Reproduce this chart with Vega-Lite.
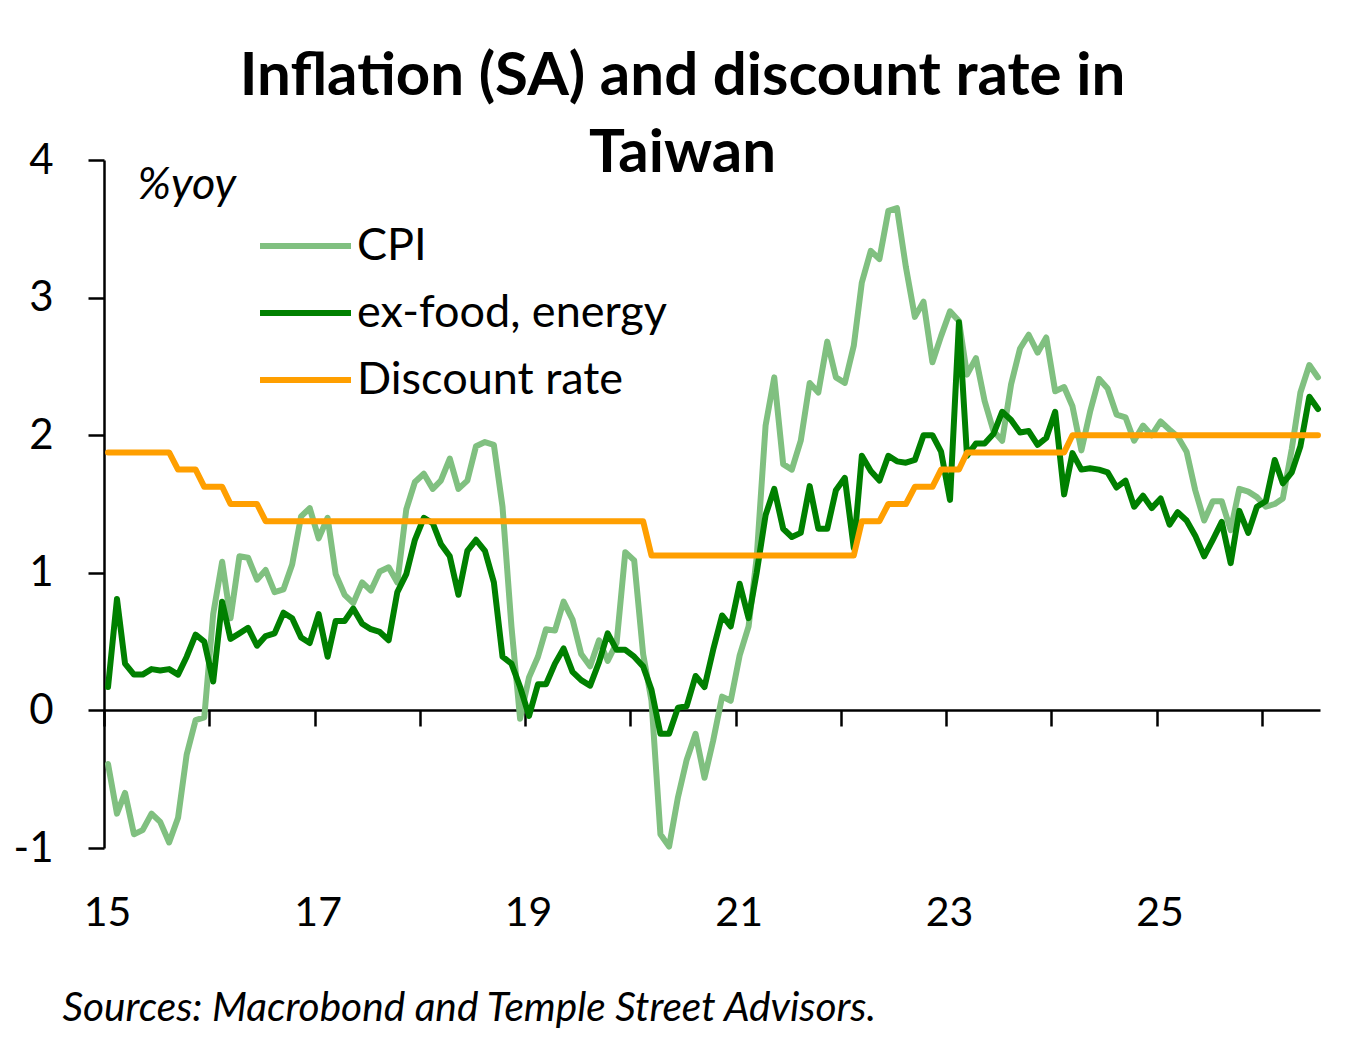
{
  "$schema": "https://vega.github.io/schema/vega-lite/v6.json",
  "width": 1216,
  "height": 688,
  "autosize": "none",
  "padding": {"left": 104, "top": 160, "right": 45, "bottom": 211},
  "background": "white",
  "title": {
    "text": ["Inflation (SA) and discount rate in", "Taiwan"],
    "font": "Lato",
    "fontSize": 60,
    "fontWeight": "bold",
    "color": "black",
    "lineHeight": 77,
    "anchor": "middle",
    "frame": "group",
    "offset": 0,
    "dx": -29.5,
    "dy": 46
  },
  "data": {
    "values": [
      {"date": "2015-01-15", "cpi": -0.39, "core": 0.17, "rate": 1.875},
      {"date": "2015-02-15", "cpi": -0.75, "core": 0.81, "rate": 1.875},
      {"date": "2015-03-15", "cpi": -0.60, "core": 0.34, "rate": 1.875},
      {"date": "2015-04-15", "cpi": -0.90, "core": 0.26, "rate": 1.875},
      {"date": "2015-05-15", "cpi": -0.87, "core": 0.26, "rate": 1.875},
      {"date": "2015-06-15", "cpi": -0.75, "core": 0.30, "rate": 1.875},
      {"date": "2015-07-15", "cpi": -0.81, "core": 0.29, "rate": 1.875},
      {"date": "2015-08-15", "cpi": -0.96, "core": 0.30, "rate": 1.875},
      {"date": "2015-09-15", "cpi": -0.78, "core": 0.26, "rate": 1.75},
      {"date": "2015-10-15", "cpi": -0.32, "core": 0.39, "rate": 1.75},
      {"date": "2015-11-15", "cpi": -0.07, "core": 0.55, "rate": 1.75},
      {"date": "2015-12-15", "cpi": -0.05, "core": 0.50, "rate": 1.625},
      {"date": "2016-01-15", "cpi": 0.70, "core": 0.21, "rate": 1.625},
      {"date": "2016-02-15", "cpi": 1.08, "core": 0.79, "rate": 1.625},
      {"date": "2016-03-15", "cpi": 0.67, "core": 0.52, "rate": 1.5},
      {"date": "2016-04-15", "cpi": 1.12, "core": 0.56, "rate": 1.5},
      {"date": "2016-05-15", "cpi": 1.11, "core": 0.60, "rate": 1.5},
      {"date": "2016-06-15", "cpi": 0.95, "core": 0.47, "rate": 1.5},
      {"date": "2016-07-15", "cpi": 1.02, "core": 0.54, "rate": 1.375},
      {"date": "2016-08-15", "cpi": 0.86, "core": 0.56, "rate": 1.375},
      {"date": "2016-09-15", "cpi": 0.88, "core": 0.71, "rate": 1.375},
      {"date": "2016-10-15", "cpi": 1.06, "core": 0.67, "rate": 1.375},
      {"date": "2016-11-15", "cpi": 1.41, "core": 0.53, "rate": 1.375},
      {"date": "2016-12-15", "cpi": 1.47, "core": 0.49, "rate": 1.375},
      {"date": "2017-01-15", "cpi": 1.25, "core": 0.70, "rate": 1.375},
      {"date": "2017-02-15", "cpi": 1.40, "core": 0.39, "rate": 1.375},
      {"date": "2017-03-15", "cpi": 0.99, "core": 0.65, "rate": 1.375},
      {"date": "2017-04-15", "cpi": 0.84, "core": 0.65, "rate": 1.375},
      {"date": "2017-05-15", "cpi": 0.78, "core": 0.74, "rate": 1.375},
      {"date": "2017-06-15", "cpi": 0.93, "core": 0.63, "rate": 1.375},
      {"date": "2017-07-15", "cpi": 0.87, "core": 0.59, "rate": 1.375},
      {"date": "2017-08-15", "cpi": 1.01, "core": 0.57, "rate": 1.375},
      {"date": "2017-09-15", "cpi": 1.04, "core": 0.51, "rate": 1.375},
      {"date": "2017-10-15", "cpi": 0.93, "core": 0.86, "rate": 1.375},
      {"date": "2017-11-15", "cpi": 1.46, "core": 0.99, "rate": 1.375},
      {"date": "2017-12-15", "cpi": 1.66, "core": 1.24, "rate": 1.375},
      {"date": "2018-01-15", "cpi": 1.72, "core": 1.40, "rate": 1.375},
      {"date": "2018-02-15", "cpi": 1.61, "core": 1.36, "rate": 1.375},
      {"date": "2018-03-15", "cpi": 1.67, "core": 1.21, "rate": 1.375},
      {"date": "2018-04-15", "cpi": 1.83, "core": 1.12, "rate": 1.375},
      {"date": "2018-05-15", "cpi": 1.61, "core": 0.84, "rate": 1.375},
      {"date": "2018-06-15", "cpi": 1.67, "core": 1.16, "rate": 1.375},
      {"date": "2018-07-15", "cpi": 1.92, "core": 1.24, "rate": 1.375},
      {"date": "2018-08-15", "cpi": 1.95, "core": 1.16, "rate": 1.375},
      {"date": "2018-09-15", "cpi": 1.93, "core": 0.93, "rate": 1.375},
      {"date": "2018-10-15", "cpi": 1.48, "core": 0.39, "rate": 1.375},
      {"date": "2018-11-15", "cpi": 0.61, "core": 0.34, "rate": 1.375},
      {"date": "2018-12-15", "cpi": -0.06, "core": 0.17, "rate": 1.375},
      {"date": "2019-01-15", "cpi": 0.24, "core": -0.04, "rate": 1.375},
      {"date": "2019-02-15", "cpi": 0.39, "core": 0.19, "rate": 1.375},
      {"date": "2019-03-15", "cpi": 0.59, "core": 0.19, "rate": 1.375},
      {"date": "2019-04-15", "cpi": 0.58, "core": 0.34, "rate": 1.375},
      {"date": "2019-05-15", "cpi": 0.79, "core": 0.45, "rate": 1.375},
      {"date": "2019-06-15", "cpi": 0.66, "core": 0.28, "rate": 1.375},
      {"date": "2019-07-15", "cpi": 0.41, "core": 0.22, "rate": 1.375},
      {"date": "2019-08-15", "cpi": 0.32, "core": 0.18, "rate": 1.375},
      {"date": "2019-09-15", "cpi": 0.51, "core": 0.35, "rate": 1.375},
      {"date": "2019-10-15", "cpi": 0.36, "core": 0.56, "rate": 1.375},
      {"date": "2019-11-15", "cpi": 0.49, "core": 0.44, "rate": 1.375},
      {"date": "2019-12-15", "cpi": 1.15, "core": 0.44, "rate": 1.375},
      {"date": "2020-01-15", "cpi": 1.09, "core": 0.39, "rate": 1.375},
      {"date": "2020-02-15", "cpi": 0.41, "core": 0.32, "rate": 1.375},
      {"date": "2020-03-15", "cpi": 0.07, "core": 0.15, "rate": 1.125},
      {"date": "2020-04-15", "cpi": -0.90, "core": -0.17, "rate": 1.125},
      {"date": "2020-05-15", "cpi": -0.99, "core": -0.17, "rate": 1.125},
      {"date": "2020-06-15", "cpi": -0.63, "core": 0.02, "rate": 1.125},
      {"date": "2020-07-15", "cpi": -0.36, "core": 0.03, "rate": 1.125},
      {"date": "2020-08-15", "cpi": -0.17, "core": 0.25, "rate": 1.125},
      {"date": "2020-09-15", "cpi": -0.49, "core": 0.17, "rate": 1.125},
      {"date": "2020-10-15", "cpi": -0.22, "core": 0.44, "rate": 1.125},
      {"date": "2020-11-15", "cpi": 0.10, "core": 0.69, "rate": 1.125},
      {"date": "2020-12-15", "cpi": 0.07, "core": 0.61, "rate": 1.125},
      {"date": "2021-01-15", "cpi": 0.40, "core": 0.92, "rate": 1.125},
      {"date": "2021-02-15", "cpi": 0.61, "core": 0.67, "rate": 1.125},
      {"date": "2021-03-15", "cpi": 1.11, "core": 1.00, "rate": 1.125},
      {"date": "2021-04-15", "cpi": 2.07, "core": 1.42, "rate": 1.125},
      {"date": "2021-05-15", "cpi": 2.42, "core": 1.61, "rate": 1.125},
      {"date": "2021-06-15", "cpi": 1.79, "core": 1.32, "rate": 1.125},
      {"date": "2021-07-15", "cpi": 1.75, "core": 1.26, "rate": 1.125},
      {"date": "2021-08-15", "cpi": 1.96, "core": 1.29, "rate": 1.125},
      {"date": "2021-09-15", "cpi": 2.38, "core": 1.63, "rate": 1.125},
      {"date": "2021-10-15", "cpi": 2.31, "core": 1.32, "rate": 1.125},
      {"date": "2021-11-15", "cpi": 2.68, "core": 1.32, "rate": 1.125},
      {"date": "2021-12-15", "cpi": 2.42, "core": 1.60, "rate": 1.125},
      {"date": "2022-01-15", "cpi": 2.38, "core": 1.69, "rate": 1.125},
      {"date": "2022-02-15", "cpi": 2.65, "core": 1.18, "rate": 1.125},
      {"date": "2022-03-15", "cpi": 3.11, "core": 1.85, "rate": 1.375},
      {"date": "2022-04-15", "cpi": 3.34, "core": 1.74, "rate": 1.375},
      {"date": "2022-05-15", "cpi": 3.28, "core": 1.67, "rate": 1.375},
      {"date": "2022-06-15", "cpi": 3.63, "core": 1.85, "rate": 1.5},
      {"date": "2022-07-15", "cpi": 3.65, "core": 1.81, "rate": 1.5},
      {"date": "2022-08-15", "cpi": 3.22, "core": 1.80, "rate": 1.5},
      {"date": "2022-09-15", "cpi": 2.86, "core": 1.82, "rate": 1.625},
      {"date": "2022-10-15", "cpi": 2.97, "core": 2.00, "rate": 1.625},
      {"date": "2022-11-15", "cpi": 2.53, "core": 2.00, "rate": 1.625},
      {"date": "2022-12-15", "cpi": 2.72, "core": 1.88, "rate": 1.75},
      {"date": "2023-01-15", "cpi": 2.90, "core": 1.53, "rate": 1.75},
      {"date": "2023-02-15", "cpi": 2.83, "core": 2.82, "rate": 1.75},
      {"date": "2023-03-15", "cpi": 2.44, "core": 1.85, "rate": 1.875},
      {"date": "2023-04-15", "cpi": 2.56, "core": 1.94, "rate": 1.875},
      {"date": "2023-05-15", "cpi": 2.25, "core": 1.94, "rate": 1.875},
      {"date": "2023-06-15", "cpi": 2.03, "core": 2.01, "rate": 1.875},
      {"date": "2023-07-15", "cpi": 1.96, "core": 2.17, "rate": 1.875},
      {"date": "2023-08-15", "cpi": 2.37, "core": 2.11, "rate": 1.875},
      {"date": "2023-09-15", "cpi": 2.63, "core": 2.02, "rate": 1.875},
      {"date": "2023-10-15", "cpi": 2.73, "core": 2.03, "rate": 1.875},
      {"date": "2023-11-15", "cpi": 2.60, "core": 1.93, "rate": 1.875},
      {"date": "2023-12-15", "cpi": 2.71, "core": 1.98, "rate": 1.875},
      {"date": "2024-01-15", "cpi": 2.32, "core": 2.17, "rate": 1.875},
      {"date": "2024-02-15", "cpi": 2.35, "core": 1.57, "rate": 1.875},
      {"date": "2024-03-15", "cpi": 2.21, "core": 1.87, "rate": 2.0},
      {"date": "2024-04-15", "cpi": 1.89, "core": 1.75, "rate": 2.0},
      {"date": "2024-05-15", "cpi": 2.17, "core": 1.76, "rate": 2.0},
      {"date": "2024-06-15", "cpi": 2.41, "core": 1.75, "rate": 2.0},
      {"date": "2024-07-15", "cpi": 2.34, "core": 1.73, "rate": 2.0},
      {"date": "2024-08-15", "cpi": 2.15, "core": 1.62, "rate": 2.0},
      {"date": "2024-09-15", "cpi": 2.13, "core": 1.67, "rate": 2.0},
      {"date": "2024-10-15", "cpi": 1.96, "core": 1.48, "rate": 2.0},
      {"date": "2024-11-15", "cpi": 2.07, "core": 1.56, "rate": 2.0},
      {"date": "2024-12-15", "cpi": 2.00, "core": 1.47, "rate": 2.0},
      {"date": "2025-01-15", "cpi": 2.10, "core": 1.54, "rate": 2.0},
      {"date": "2025-02-15", "cpi": 2.04, "core": 1.35, "rate": 2.0},
      {"date": "2025-03-15", "cpi": 1.99, "core": 1.44, "rate": 2.0},
      {"date": "2025-04-15", "cpi": 1.88, "core": 1.38, "rate": 2.0},
      {"date": "2025-05-15", "cpi": 1.60, "core": 1.27, "rate": 2.0},
      {"date": "2025-06-15", "cpi": 1.38, "core": 1.12, "rate": 2.0},
      {"date": "2025-07-15", "cpi": 1.52, "core": 1.24, "rate": 2.0},
      {"date": "2025-08-15", "cpi": 1.52, "core": 1.37, "rate": 2.0},
      {"date": "2025-09-15", "cpi": 1.31, "core": 1.07, "rate": 2.0},
      {"date": "2025-10-15", "cpi": 1.61, "core": 1.45, "rate": 2.0},
      {"date": "2025-11-15", "cpi": 1.59, "core": 1.29, "rate": 2.0},
      {"date": "2025-12-15", "cpi": 1.55, "core": 1.48, "rate": 2.0},
      {"date": "2026-01-15", "cpi": 1.48, "core": 1.52, "rate": 2.0},
      {"date": "2026-02-15", "cpi": 1.50, "core": 1.82, "rate": 2.0},
      {"date": "2026-03-15", "cpi": 1.54, "core": 1.65, "rate": 2.0},
      {"date": "2026-04-15", "cpi": 1.90, "core": 1.73, "rate": 2.0},
      {"date": "2026-05-15", "cpi": 2.31, "core": 1.92, "rate": 2.0},
      {"date": "2026-06-15", "cpi": 2.51, "core": 2.28, "rate": 2.0},
      {"date": "2026-07-15", "cpi": 2.42, "core": 2.19, "rate": 2.0}
    ]
  },
  "transform": [
    {"fold": ["cpi", "core", "rate"], "as": ["series", "value"]}
  ],
  "mark": {"type": "line", "strokeWidth": 6, "strokeCap": "round", "strokeJoin": "round"},
  "encoding": {
    "x": {
      "field": "date",
      "type": "temporal",
      "scale": {"type": "utc", "domain": [{"year": 2015, "month": 1, "date": 1, "utc": true}, {"year": 2026, "month": 7, "date": 22, "utc": true}]},
      "axis": {
        "title": "Sources: Macrobond and Temple Street Advisors.",
        "titleFont": "Lato",
        "titleFontSize": 40.6,
        "titleFontStyle": "italic",
        "titleFontWeight": "normal",
        "titleColor": "black",
        "titleAlign": "left",
        "titleBaseline": "alphabetic",
        "titleX": -42,
        "titleY": 310,
        "titleLimit": 1200,
        "offset": -138,
        "values": [
          {"year": 2015, "utc": true}, {"year": 2016, "utc": true}, {"year": 2017, "utc": true},
          {"year": 2018, "utc": true}, {"year": 2019, "utc": true}, {"year": 2020, "utc": true},
          {"year": 2021, "utc": true}, {"year": 2022, "utc": true}, {"year": 2023, "utc": true},
          {"year": 2024, "utc": true}, {"year": 2025, "utc": true}, {"year": 2026, "utc": true}
        ],
        "labelExpr": "utcyear(datum.value) % 2 == 1 ? utcFormat(datum.value, '%y') : ''",
        "labelFont": "Lato",
        "labelFontSize": 41,
        "labelColor": "black",
        "labelPadding": 167,
        "labelOffset": 3,
        "labelFlush": false,
        "labelOverlap": false,
        "tickSize": 16,
        "tickWidth": 2.5,
        "tickColor": "black",
        "domainColor": "black",
        "domainWidth": 2.5,
        "grid": false
      }
    },
    "y": {
      "field": "value",
      "type": "quantitative",
      "scale": {"domain": [-1, 4], "nice": false, "zero": false},
      "axis": {
        "title": "%yoy",
        "titleFont": "Lato",
        "titleFontSize": 45,
        "titleFontStyle": "italic",
        "titleFontWeight": "normal",
        "titleColor": "black",
        "titleAngle": 0,
        "titleAlign": "left",
        "titleBaseline": "alphabetic",
        "titleX": 33,
        "titleY": 38,
        "values": [-1, 0, 1, 2, 3, 4],
        "labelExpr": "datum.value < 0 ? '-' + abs(datum.value) : '' + datum.value",
        "labelFont": "Lato",
        "labelFontSize": 42,
        "labelColor": "black",
        "labelPadding": 35,
        "labelFlush": false,
        "tickSize": 16,
        "tickWidth": 2.5,
        "tickColor": "black",
        "domainColor": "black",
        "domainWidth": 2.5,
        "grid": false
      }
    },
    "color": {
      "field": "series",
      "type": "nominal",
      "scale": {"domain": ["cpi", "core", "rate"], "range": ["#80C080", "#008000", "#FF9F00"]},
      "legend": {
        "title": null,
        "orient": "none",
        "legendX": 153,
        "legendY": 56,
        "padding": 0,
        "direction": "vertical",
        "symbolType": "stroke",
        "symbolSize": 8281,
        "symbolStrokeWidth": 6,
        "clipHeight": 60,
        "rowPadding": 7,
        "labelOffset": 3,
        "labelFont": "Lato",
        "labelFontSize": 45,
        "labelColor": "black",
        "labelLimit": 0,
        "labelExpr": "{'cpi': 'CPI', 'core': 'ex-food, energy', 'rate': 'Discount rate'}[datum.label]"
      }
    }
  },
  "config": {
    "font": "Lato",
    "view": {"stroke": null}
  }
}
